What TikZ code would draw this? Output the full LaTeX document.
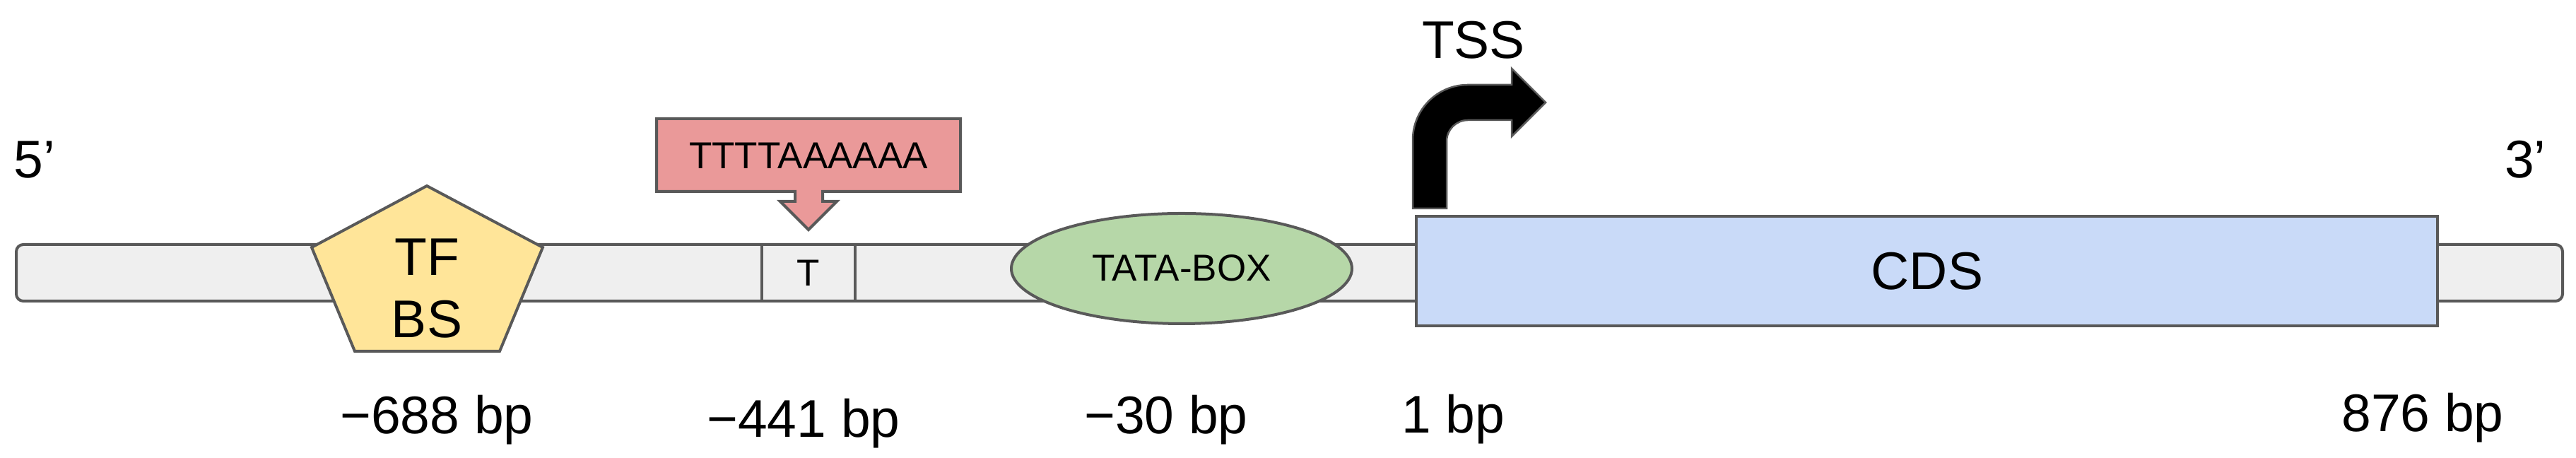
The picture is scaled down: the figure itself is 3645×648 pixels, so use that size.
\documentclass[tikz,border=0pt]{standalone}
\usepackage{fontspec}
\setmainfont{Liberation Sans}
\definecolor{linegray}{HTML}{595959}
\definecolor{barfill}{HTML}{EFEFEF}
\definecolor{tfyellow}{HTML}{FFE599}
\definecolor{boxred}{HTML}{EA9999}
\definecolor{tatagreen}{HTML}{B6D7A8}
\definecolor{cdsblue}{HTML}{C9DAF8}
\tikzset{
  shapeline/.style={draw=linegray, line width=0.8pt, line join=miter},
  bigtext/.style={font=\fontsize{15}{17.6}\selectfont, inner sep=0pt, outer sep=0pt},
  smalltext/.style={font=\fontsize{10.6}{12}\selectfont, inner sep=0pt, outer sep=0pt},
}
\begin{document}
\begin{tikzpicture}[x=0.2pt, y=-0.2pt]
\useasboundingbox (0,0) rectangle (3645,648);
% DNA bar
\path[shapeline, fill=barfill, rounded corners=2pt] (23,346) rectangle (3626,426);
\coordinate (tL1) at (1078,346); \coordinate (tL2) at (1078,426);
\coordinate (tR1) at (1210,346); \coordinate (tR2) at (1210,426);
\draw[shapeline] (tL1) -- (tL2) (tR1) -- (tR2);
% TFBS pentagon
\path[shapeline, fill=tfyellow] (604,263) -- (768,350) -- (707,497) -- (502,497) -- (441,350) -- cycle;
\node[bigtext, align=center, anchor=base] (tfbs) at (604,478) {TF\\BS};
% T marker
\node[smalltext, anchor=base] (tmark) at (1144,405) {T};
% TATA box
\path[shapeline, fill=tatagreen] (1672,380) ellipse [x radius=241, y radius=78];
\node[smalltext, anchor=base] (tata) at (1672,398) {TATA-BOX};
% CDS
\path[shapeline, fill=cdsblue] (2004,306) rectangle (3449,461);
\node[bigtext, anchor=base] (cds) at (2727,410) {CDS};
% callout
\path[shapeline, fill=boxred] (929,168) -- (1359,168) -- (1359,271) -- (1164,271) -- (1164,285) -- (1184,285) -- (1144,325) -- (1104,285) -- (1125,285) -- (1125,271) -- (929,271) -- cycle;
\node[smalltext, anchor=base] (motif) at (1144,239) {TTTTAAAAAA};
% TSS bent arrow
\path[draw=linegray, line width=0.5pt, fill=black, line join=miter]
  (1999,295) -- (1999,198) arc (180:270:78) -- (2139,120) -- (2139,97) -- (2187,145)
  -- (2139,193) -- (2139,170) -- (2077,170) arc (270:180:30) -- (2047,295) -- cycle;
\node[bigtext, anchor=base] (tss) at (2085,83) {TSS};
% ends
\node[bigtext, anchor=base west] (five) at (20,252) {5’};
\node[bigtext, anchor=base west] (three) at (3544,252) {3’};
% positions
\node[bigtext, anchor=base] (p688) at (618,614) {−688 bp};
\node[bigtext, anchor=base] (p441) at (1137,619) {−441 bp};
\node[bigtext, anchor=base] (p30) at (1650,614) {−30 bp};
\node[bigtext, anchor=base] (p1) at (2056,613) {1 bp};
\node[bigtext, anchor=base] (p876) at (3428,611) {876 bp};
\end{tikzpicture}
\end{document}
